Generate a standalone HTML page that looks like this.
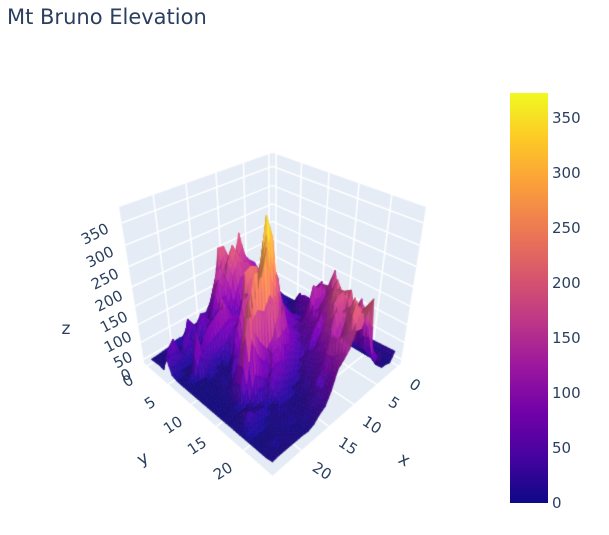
<!DOCTYPE html>
<html><head><meta charset="utf-8">
<style>
html,body{margin:0;padding:0;background:#fff;}
#wrap{position:relative;width:609px;height:535px;overflow:hidden;background:#fff;}
canvas{position:absolute;left:0;top:0;}
svg{position:absolute;left:0;top:0;}
text{font-family:"DejaVu Sans","Liberation Sans",sans-serif;fill:#2a3f5f;}
</style></head><body>
<div id="wrap">
<canvas id="c" width="609" height="535"></canvas>
<svg width="609" height="535" xmlns="http://www.w3.org/2000/svg">
<defs>
<linearGradient id="cb" x1="0" y1="1" x2="0" y2="0">
<stop offset="0" stop-color="#0d0887"/>
<stop offset="0.1111" stop-color="#46039f"/>
<stop offset="0.2222" stop-color="#7201a8"/>
<stop offset="0.3333" stop-color="#9c179e"/>
<stop offset="0.4444" stop-color="#bd3786"/>
<stop offset="0.5556" stop-color="#d8576b"/>
<stop offset="0.6667" stop-color="#ed7953"/>
<stop offset="0.7778" stop-color="#fb9f3a"/>
<stop offset="0.8889" stop-color="#fdca26"/>
<stop offset="1" stop-color="#f0f921"/>
</linearGradient>
</defs>
<text x="7" y="24" font-size="21">Mt Bruno Elevation</text>
<rect x="510" y="93" width="38" height="410" fill="url(#cb)"/>
<g font-size="15" dominant-baseline="central">
<text x="552" y="502.8" dominant-baseline="central">0</text>
<text x="552" y="447.9" dominant-baseline="central">50</text>
<text x="552" y="392.9" dominant-baseline="central">100</text>
<text x="552" y="338" dominant-baseline="central">150</text>
<text x="552" y="283" dominant-baseline="central">200</text>
<text x="552" y="228" dominant-baseline="central">250</text>
<text x="552" y="173.1" dominant-baseline="central">300</text>
<text x="552" y="118.2" dominant-baseline="central">350</text>
</g>
<g font-size="15" text-anchor="middle">
<text x="95" y="234" transform="rotate(-27 95 234)" dominant-baseline="central">350</text>
<text x="100" y="257" transform="rotate(-27 100 257)" dominant-baseline="central">300</text>
<text x="105" y="279" transform="rotate(-27 105 279)" dominant-baseline="central">250</text>
<text x="109" y="301" transform="rotate(-27 109 301)" dominant-baseline="central">200</text>
<text x="114" y="322" transform="rotate(-27 114 322)" dominant-baseline="central">150</text>
<text x="118" y="342" transform="rotate(-27 118 342)" dominant-baseline="central">100</text>
<text x="123" y="360" transform="rotate(-27 123 360)" dominant-baseline="central">50</text>
<text x="126" y="375" transform="rotate(-27 126 375)" dominant-baseline="central">0</text>
<text x="128" y="381" transform="rotate(-33 128 381)" dominant-baseline="central">0</text>
<text x="150" y="403" transform="rotate(-33 150 403)" dominant-baseline="central">5</text>
<text x="173" y="425" transform="rotate(-33 173 425)" dominant-baseline="central">10</text>
<text x="197" y="446" transform="rotate(-33 197 446)" dominant-baseline="central">15</text>
<text x="223" y="471" transform="rotate(-33 223 471)" dominant-baseline="central">20</text>
<text x="415" y="385" transform="rotate(33 415 385)" dominant-baseline="central">0</text>
<text x="394" y="403" transform="rotate(33 394 403)" dominant-baseline="central">5</text>
<text x="372" y="425" transform="rotate(33 372 425)" dominant-baseline="central">10</text>
<text x="348" y="446" transform="rotate(33 348 446)" dominant-baseline="central">15</text>
<text x="322" y="471" transform="rotate(33 322 471)" dominant-baseline="central">20</text>
</g>
<g font-size="17" text-anchor="middle">
<text x="404" y="460" transform="rotate(30 404 460)" dominant-baseline="central">x</text>
<text x="143" y="459" transform="rotate(-30 143 459)" dominant-baseline="central">y</text>
<text x="66" y="329" dominant-baseline="central">z</text>
</g>
</svg>
</div>
<script>
(function(){
const R=[
[27.80985,49.61936,83.08067,116.6632,130.414,150.7206,220.1871,156.1536,148.6416,203.7845,206.0386,107.1618,68.36975,45.3359,49.96142,21.89279,17.02552,11.74317,14.75226,13.6671,5.677561,3.31234,1.156517,-0.147662],
[27.71966,48.55022,65.21374,95.27666,116.9964,133.9056,152.3412,151.934,160.1139,179.5327,147.6184,170.3943,121.8194,52.58537,33.08871,38.40972,44.24843,69.5786,4.019351,3.050024,3.039719,2.996142,2.967954,1.999594],
[30.4267,33.47752,44.80953,62.47495,77.43523,104.2153,102.7393,137.0004,186.0706,219.3173,181.7615,120.9154,143.1835,82.40501,48.47132,74.71461,60.0909,7.073525,6.089851,6.53745,6.666096,7.306965,5.73684,3.625628],
[16.66549,30.1086,39.96952,44.12225,59.57512,77.56929,106.8925,166.5539,175.2381,185.2815,154.5056,83.0433,62.61732,62.33167,60.55916,55.92124,15.17284,8.248324,36.68087,61.93413,20.26867,68.58819,46.49812,0.2360095],
[8.815617,18.3516,8.658275,27.5859,48.62691,60.18013,91.3286,145.7109,116.0653,106.2662,68.69447,53.10596,37.92797,47.95942,47.42691,69.20731,44.95468,29.17197,17.91674,16.25515,14.65559,17.26048,31.22245,46.71704],
[6.628881,10.41339,24.81939,26.08952,30.1605,52.30802,64.71007,76.30823,84.63686,99.4324,62.52132,46.81647,55.76606,82.4099,140.2647,81.26501,56.45756,30.42164,17.28782,8.302431,2.981626,2.698536,5.886086,5.268358],
[21.83975,6.63927,18.97085,32.89204,43.15014,62.86014,104.6657,130.2294,114.8494,106.9873,61.89647,55.55682,86.80986,89.27802,122.4221,123.9698,109.0952,98.41956,77.61374,32.49031,14.67344,7.370775,0.03711011,0.6423392],
[53.34303,26.79797,6.63927,10.88787,17.2044,56.18116,79.70141,90.8453,98.27675,80.87243,74.7931,75.54661,73.4373,74.11694,68.1749,46.24076,39.93857,31.21653,36.88335,40.02525,117.4297,12.70328,1.729771,0],
[25.66785,63.05717,22.1414,17.074,41.74483,60.27227,81.42432,114.444,102.3234,101.7878,111.031,119.2309,114.0777,110.5296,59.19355,42.47175,14.63598,6.944074,6.944075,27.74936,0,0,0.09449376,0.07732264],
[12.827,69.20554,46.76293,13.96517,33.88744,61.82613,84.74799,121.122,145.2741,153.1797,204.786,227.9242,236.3038,228.3655,79.34425,25.93483,6.944074,6.944074,6.944075,7.553681,0,0,0,0],
[0,68.66396,59.0435,33.35762,47.45282,57.8355,78.91689,107.8275,168.0053,130.9597,212.5541,165.8122,210.2429,181.1713,189.7617,137.3378,84.65395,8.677168,6.956576,8.468093,0,0,0,0],
[0,95.17499,80.03818,59.89862,39.58476,50.28058,63.81641,80.61302,66.37824,198.7651,244.3467,294.2474,264.3517,176.4082,60.21857,77.41475,53.16981,56.16393,6.949235,7.531059,3.780177,0,0,0],
[0,134.9879,130.3696,96.86325,75.70494,58.86466,57.20374,55.18837,78.128,108.5582,154.3774,319.1686,372.8826,275.4655,130.2632,54.93822,25.49719,8.047439,8.084393,5.115252,5.678269,0,0,0],
[0,48.08919,142.5558,140.3777,154.7261,87.9361,58.11092,52.83869,67.14822,83.66798,118.9242,150.0681,272.9709,341.1366,238.664,190.2,116.8943,91.48672,14.0157,42.29277,5.115252,0,0,0],
[0,54.1941,146.3839,99.48143,96.19411,102.9473,76.14089,57.7844,47.0402,64.36799,84.23767,162.7181,121.3275,213.1646,328.482,285.4489,283.8319,212.815,164.549,92.29631,7.244015,1.167,0,0],
[0,6.919659,195.1709,132.5253,135.2341,89.85069,89.45549,60.29967,50.33806,39.17583,59.06854,74.52159,84.93402,187.1219,123.9673,103.7027,128.986,165.1283,249.7054,95.39966,10.00284,2.39255,0,0],
[0,21.73871,123.1339,176.7414,158.2698,137.235,105.3089,86.63255,53.11591,29.03865,30.40539,39.04902,49.23405,63.27853,111.4215,101.1956,40.00962,59.84565,74.51253,17.06316,2.435141,2.287471,-0.0003636982,0],
[0,0,62.04672,136.3122,201.7952,168.1343,95.2046,58.90624,46.94091,49.27053,37.10416,17.97011,30.93697,33.39257,44.03077,55.64542,78.22423,14.42782,9.954997,7.768213,13.0254,21.73166,2.156372,0.5317867],
[0,0,79.62993,139.6978,173.167,192.8718,196.3499,144.6611,106.5424,57.16653,41.16107,32.12764,13.8566,10.91772,12.07177,22.38254,24.72105,6.803666,4.200841,16.46857,15.70744,33.96221,7.575688,-0.04880907],
[0,0,33.2664,57.53643,167.2241,196.4833,194.7966,182.1884,119.6961,73.02113,48.36549,33.74652,26.2379,16.3578,6.811293,6.63927,6.639271,8.468093,6.194273,3.591233,3.81486,8.600739,5.21889,0],
[0,0,29.77937,54.97282,144.7995,207.4904,165.3432,171.4047,174.9216,100.2733,61.46441,50.19171,26.08209,17.18218,8.468093,6.63927,6.334467,6.334467,5.666687,4.272203,0,0,0,0],
[0,0,31.409,132.7418,185.5796,121.8299,185.3841,160.6566,116.1478,118.1078,141.7946,65.56351,48.84066,23.13864,18.12932,10.28531,6.029663,6.044627,5.694764,3.739085,3.896037,0,0,0],
[0,0,19.58994,42.30355,96.26777,187.1207,179.6626,221.3898,154.2617,142.1604,148.5737,67.17937,40.69044,39.74512,26.10166,14.48469,8.65873,3.896037,3.571392,3.896037,3.896037,3.896037,1.077756,0],
[0.001229679,3.008948,5.909858,33.50574,104.3341,152.2165,198.1988,191.841,228.7349,168.1041,144.2759,110.7436,57.65214,42.63504,27.91891,15.41052,8.056102,3.90283,3.879774,3.936718,3.968634,0.1236256,3.985531,-0.1835741],
[0,5.626141,7.676256,63.16226,45.99762,79.56688,227.311,203.9287,172.5618,177.1809,140.4554,123.9905,110.346,65.12319,34.31887,24.5278,9.561069,3.334991,5.590495,5.487353,5.909499,5.868994,5.833817,3.568177]
];
const Z=R.map(function(row,i){return [i].concat(row);});
const NR=Z.length, NC=Z[0].length;
let zmin=Infinity,zmax=-Infinity;
for(const row of Z) for(const v of row){ if(v<zmin)zmin=v; if(v>zmax)zmax=v; }
const dz=zmax-zmin, zlo=zmin-dz/32, zhi=zmax+dz/32;
const xlo=-0.75, xhi=24.75;
function Ux(x){return (x-xlo)/(xhi-xlo);}
function Wz(z){return (z-zlo)/(zhi-zlo);}

const pts=[[0,0,1,272.5,153],[1,0,1,118,207.5],[0,1,1,427,207.5],[1,0,0,144,363.5],[0,1,0,401,363.5],[1,1,0,272.5,475]];
const gl=[[0,270],[5,245],[10,216.7],[15,186.7],[20,153.3]];
for(const g of gl){
  const u=Ux(g[0]); const x=g[1]; const y=207.5-((x-118)/154.5)*54.5;
  pts.push([u,0,1,x,y]); pts.push([0,u,1,545-x,y]);
}
const A=[],B=[];
for(const p of pts){
  const X=2*p[0]-1,Y=2*p[1]-1,W=2*p[2]-1;
  const u=(p[3]-272.5)/200, v=(p[4]-300)/200;
  A.push([X,Y,W,1,0,0,0,0,-u*X,-u*Y,-u*W]); B.push(u);
  A.push([0,0,0,0,X,Y,W,1,-v*X,-v*Y,-v*W]); B.push(v);
}
const n=11; const M=[];
for(let i=0;i<n;i++){M.push(new Array(n+1).fill(0));}
for(let k=0;k<A.length;k++){
  for(let i=0;i<n;i++){
    for(let j=0;j<n;j++) M[i][j]+=A[k][i]*A[k][j];
    M[i][n]+=A[k][i]*B[k];
  }
}
for(let i=0;i<n;i++){
  let p=i; for(let r=i+1;r<n;r++) if(Math.abs(M[r][i])>Math.abs(M[p][i])) p=r;
  const t=M[i]; M[i]=M[p]; M[p]=t;
  for(let r=0;r<n;r++){ if(r===i) continue; const f=M[r][i]/M[i][i]; if(f===0) continue; for(let c=i;c<=n;c++) M[r][c]-=f*M[i][c]; }
}
const P=M.map(function(row,i){return row[n]/row[i];});
function proj(uu,vv,ww){
  const X=2*uu-1,Y=2*vv-1,W=2*ww-1;
  const den=P[8]*X+P[9]*Y+P[10]*W+1;
  return [(P[0]*X+P[1]*Y+P[2]*W+P[3])/den*200+272.5,(P[4]*X+P[5]*Y+P[6]*W+P[7])/den*200+300,den];
}

const ctx=document.getElementById('c').getContext('2d');
function poly(list,fill){
  ctx.beginPath();
  list.forEach(function(q,i){const s=proj(q[0],q[1],q[2]); if(i===0)ctx.moveTo(s[0],s[1]); else ctx.lineTo(s[0],s[1]);});
  ctx.closePath(); ctx.fillStyle=fill; ctx.fill();
}
const bg='#E5ECF6';
poly([[0,0,0],[1,0,0],[1,0,1],[0,0,1]],bg);
poly([[0,0,0],[0,1,0],[0,1,1],[0,0,1]],bg);
poly([[0,0,0],[1,0,0],[1,1,0],[0,1,0]],bg);
function seg(a,b){const p=proj(a[0],a[1],a[2]),q=proj(b[0],b[1],b[2]); ctx.moveTo(p[0],p[1]); ctx.lineTo(q[0],q[1]);}
ctx.strokeStyle='#ffffff'; ctx.lineWidth=1.6; ctx.beginPath();
[0,5,10,15,20].forEach(function(t){
  const u=Ux(t);
  seg([u,0,0],[u,0,1]); seg([u,0,0],[u,1,0]);
  seg([0,u,0],[0,u,1]); seg([0,u,0],[1,u,0]);
});
for(let t=0;t<=350;t+=50){const w=Wz(t); seg([0,0,w],[1,0,w]); seg([0,0,w],[0,1,w]);}
ctx.stroke();

const stops=[[0,[13,8,135]],[0.1111,[70,3,159]],[0.2222,[114,1,168]],[0.3333,[156,23,158]],[0.4444,[189,55,134]],[0.5556,[216,87,107]],[0.6667,[237,121,83]],[0.7778,[251,159,58]],[0.8889,[253,202,38]],[1,[240,249,33]]];
function plasma(t){
  t=Math.max(0,Math.min(1,t));
  for(let i=1;i<stops.length;i++){
    if(t<=stops[i][0]){
      const a=stops[i-1],b=stops[i]; const f=(t-a[0])/(b[0]-a[0]);
      return [a[1][0]+(b[1][0]-a[1][0])*f,a[1][1]+(b[1][1]-a[1][1])*f,a[1][2]+(b[1][2]-a[1][2])*f];
    }
  }
  return stops[stops.length-1][1];
}

const S=2; const tris=[];
function vert(r,c,fr,fc){
  const z00=Z[r][c],z01=Z[r][c+1],z10=Z[r+1][c],z11=Z[r+1][c+1];
  const z=z00*(1-fr)*(1-fc)+z01*(1-fr)*fc+z10*fr*(1-fc)+z11*fr*fc;
  return [Ux(c+fc),Ux(r+fr),Wz(z),z];
}
function addTri(a,b,c){
  const e1=[b[0]-a[0],b[1]-a[1],b[2]-a[2]], e2=[c[0]-a[0],c[1]-a[1],c[2]-a[2]];
  let nx=e1[1]*e2[2]-e1[2]*e2[1], ny=e1[2]*e2[0]-e1[0]*e2[2], nz=e1[0]*e2[1]-e1[1]*e2[0];
  const L=Math.sqrt(nx*nx+ny*ny+nz*nz)||1; nx/=L; ny/=L; nz/=L;
  if(nz<0){nx=-nx;ny=-ny;nz=-nz;}
  const zav=(a[3]+b[3]+c[3])/3;
  const base=plasma((zav-zmin)/(zmax-zmin));
  const f=Math.min(0.78+0.7*Math.max(ny,0)-0.15*Math.max(-ny,0),1.0);
  const col='rgb('+Math.min(255,Math.round(base[0]*f+14))+','+Math.min(255,Math.round(base[1]*f+7))+','+Math.min(255,Math.round(base[2]*f+20))+')';
  const pa=proj(a[0],a[1],a[2]),pb=proj(b[0],b[1],b[2]),pc=proj(c[0],c[1],c[2]);
  tris.push({p:[pa,pb,pc],d:(pa[2]+pb[2]+pc[2])/3,col:col});
}
for(let r=0;r<NR-1;r++){
  for(let c=0;c<NC-1;c++){
    for(let a=0;a<S;a++){
      for(let b=0;b<S;b++){
        const v00=vert(r,c,a/S,b/S), v01=vert(r,c,a/S,(b+1)/S), v10=vert(r,c,(a+1)/S,b/S), v11=vert(r,c,(a+1)/S,(b+1)/S);
        addTri(v00,v01,v11); addTri(v00,v11,v10);
      }
    }
  }
}
tris.sort(function(a,b){return b.d-a.d;});
ctx.lineJoin='round'; ctx.lineWidth=0.7;
for(const t of tris){
  ctx.beginPath();
  ctx.moveTo(t.p[0][0],t.p[0][1]); ctx.lineTo(t.p[1][0],t.p[1][1]); ctx.lineTo(t.p[2][0],t.p[2][1]); ctx.closePath();
  ctx.fillStyle=t.col; ctx.strokeStyle=t.col; ctx.fill(); ctx.stroke();
}
})();
</script>
</body></html>
